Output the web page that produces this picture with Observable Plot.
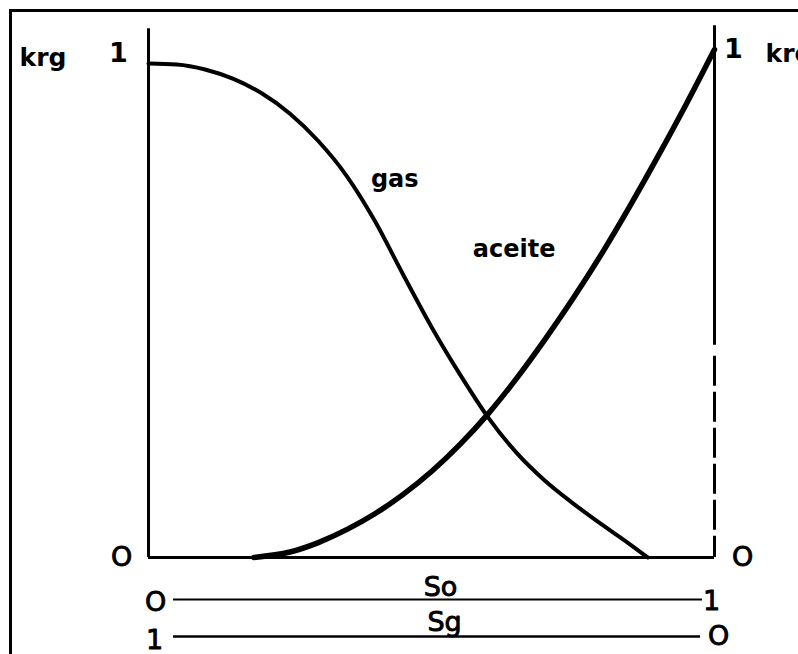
<!DOCTYPE html>
<html>
<head>
<meta charset="utf-8">
<script src="https://cdn.jsdelivr.net/npm/d3@7"></script>
<script src="https://cdn.jsdelivr.net/npm/@observablehq/plot@0.6"></script>
<style>
  html, body { margin: 0; padding: 0; background: #fff; overflow: hidden; }
  #wrap { position: relative; width: 798px; height: 654px; overflow: hidden; }
  #frame { position: absolute; left: 9px; top: 9px; width: 2000px; height: 2000px;
           border-top: 3px solid #000; border-left: 3px solid #000; pointer-events: none; }
</style>
</head>
<body>
<div id="wrap"><div id="frame"></div></div>
<script>
// Oil saturation So (0..1 left to right); Sg = 1 - So
const gasSo  = [0, 0.05, 0.1, 0.15, 0.2, 0.25, 0.3, 0.35, 0.4, 0.45, 0.5, 0.55, 0.6, 0.65, 0.7, 0.75, 0.8, 0.85, 0.882];
const gasKrg = [0.994, 0.992, 0.982, 0.963, 0.934, 0.893, 0.838, 0.768, 0.677, 0.569, 0.464, 0.369, 0.282, 0.211, 0.155, 0.109, 0.067, 0.027, 0];

const oilSo  = [0.186, 0.25, 0.3, 0.35, 0.4, 0.45, 0.5, 0.55, 0.6, 0.65, 0.7, 0.75, 0.8, 0.85, 0.9, 0.95, 1.0];
const oilKro = [0, 0.011, 0.030, 0.056, 0.088, 0.127, 0.173, 0.227, 0.289, 0.360, 0.438, 0.521, 0.610, 0.706, 0.807, 0.912, 1.022];

const yTickLabels = ["O", "1"];      // values 0, 1 on both kr axes
const soEndLabels = ["O", "1"];      // So scale: 0 at left, 1 at right
const sgEndLabels = ["1", "O"];      // Sg scale: 1 at left, 0 at right
const seriesNames = ["gas", "aceite"];
const axisNames = ["krg", "kro", "So", "Sg"];

const gas = gasSo.map((x, i) => ({x, y: gasKrg[i]}));
const oil = oilSo.map((x, i) => ({x, y: oilKro[i]}));

const F = "DejaVu Sans";
const big = 27;
const lab = 24;
const heavy = {stroke: "#000", strokeWidth: 0.9, fill: "#000"};

const chart = Plot.plot({
  width: 798,
  height: 654,
  x: {domain: [0, 1], range: [148, 714], axis: null},
  y: {domain: [0, 1], range: [557, 60], axis: null},
  style: {background: "transparent", fontFamily: F},
  marks: [
    // left axis line
    Plot.ruleX([0], {y1: 0, y2: 1.064, stroke: "#000", strokeWidth: 3}),
    // right axis: solid top, dashed bottom
    Plot.ruleX([1], {y1: 0.427, y2: 1.07, stroke: "#000", strokeWidth: 3}),
    Plot.ruleX([1], {y1: 0.405, y2: 0, stroke: "#000", strokeWidth: 3, strokeDasharray: "30,6"}),
    // x axis line
    Plot.ruleY([0], {x1: 0, x2: 1, stroke: "#000", strokeWidth: 3}),
    // curves
    Plot.line(gas, {x: "x", y: "y", curve: "monotone-x", stroke: "#000", strokeWidth: 4}),
    Plot.line(oil, {x: "x", y: "y", curve: "monotone-x", stroke: "#000", strokeWidth: 5.5}),
    // kr tick labels
    Plot.text([yTickLabels[0]], {x: 0, y: 0, text: d => d, dx: -27, lineAnchor: "middle", fontSize: big, ...heavy}),
    Plot.text([yTickLabels[0]], {x: 1, y: 0, text: d => d, dx: 28, lineAnchor: "middle", fontSize: big, ...heavy}),
    Plot.text([yTickLabels[1]], {x: 0, y: 1, text: d => d, dx: -30, dy: -7, lineAnchor: "middle", fontSize: big, fontWeight: "bold"}),
    Plot.text([yTickLabels[1]], {x: 1, y: 1, text: d => d, dx: 19, dy: -11, lineAnchor: "middle", fontSize: big, fontWeight: "bold"}),
    // axis names
    Plot.text([axisNames[0]], {x: 0, y: 1, text: d => d, textAnchor: "start", dx: -129, dy: 5, lineAnchor: "bottom", fontSize: 25, fontWeight: "bold"}),
    Plot.text([axisNames[1]], {x: 1, y: 1, text: d => d, textAnchor: "start", dx: 51, dy: 1, lineAnchor: "bottom", fontSize: 25, fontWeight: "bold"}),
    // series labels
    Plot.text([seriesNames[0]], {x: 0.435, y: 0.745, text: d => d, lineAnchor: "bottom", fontSize: lab, fontWeight: "bold"}),
    Plot.text([seriesNames[1]], {x: 0.646, y: 0.604, text: d => d, lineAnchor: "bottom", fontSize: lab, fontWeight: "bold"}),
    // So scale
    Plot.ruleY([0], {x1: 0, x2: 1, dy: 42, insetLeft: 25, insetRight: 12, stroke: "#000", strokeWidth: 2}),
    Plot.text([axisNames[2]], {x: 0.516, y: 0, text: d => d, dy: 38, lineAnchor: "bottom", fontSize: big, ...heavy}),
    Plot.text([soEndLabels[0]], {x: 0, y: 0, text: d => d, dx: 7, dy: 45, lineAnchor: "middle", fontSize: big, ...heavy}),
    Plot.text([soEndLabels[1]], {x: 1, y: 0, text: d => d, dx: -3, dy: 44, lineAnchor: "middle", fontSize: big, ...heavy}),
    // Sg scale
    Plot.ruleY([0], {x1: 0, x2: 1, dy: 79, insetLeft: 25, insetRight: 14, stroke: "#000", strokeWidth: 2.5}),
    Plot.text([axisNames[3]], {x: 0.523, y: 0, text: d => d, dy: 73, lineAnchor: "bottom", fontSize: big, ...heavy}),
    Plot.text([sgEndLabels[0]], {x: 0, y: 0, text: d => d, dx: 6, dy: 83, lineAnchor: "middle", fontSize: big, ...heavy}),
    Plot.text([sgEndLabels[1]], {x: 1, y: 0, text: d => d, dx: 4, dy: 79, lineAnchor: "middle", fontSize: big, ...heavy})
  ]
});
document.getElementById("wrap").prepend(chart);
</script>
</body>
</html>
